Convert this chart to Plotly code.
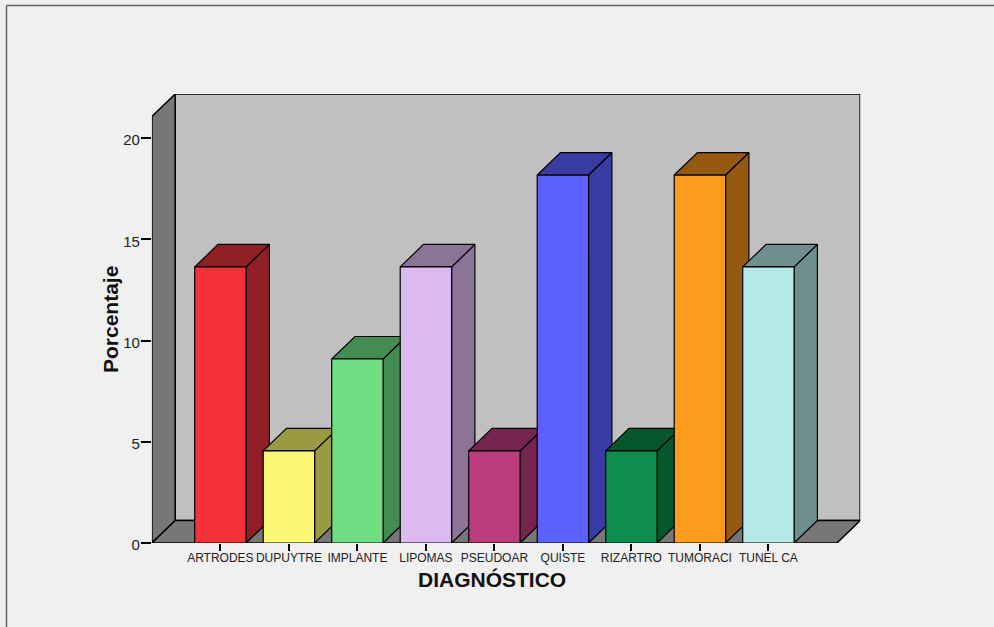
import plotly.graph_objects as go

categories = ["ARTRODES", "DUPUYTRE", "IMPLANTE", "LIPOMAS", "PSEUDOAR",
              "QUISTE", "RIZARTRO", "TUMORACI", "TUNEL CA"]
values = [13.64, 4.55, 9.09, 13.64, 4.55, 18.18, 4.55, 18.18, 13.64]
front_colors = ["#F33339", "#FBF877", "#70DE82", "#DDB9F1", "#BA3C7D",
                "#5D62FF", "#0D8E4C", "#FD9B1C", "#B6E8E8"]
side_colors = ["#8F1F24", "#9A9A42", "#458C52", "#8B7497", "#74244E",
               "#393CA3", "#07572E", "#955A0F", "#6F8F8F"]
y_ticks = [0, 5, 10, 15, 20]

W, H = 994, 627
PX_X = 68.5          # pixels per category
PX_Y = 20.24         # pixels per percent
X0, Y0 = 151.9, 543.0  # pixel of front-left floor corner
DX = 23.3 / PX_X     # oblique depth in axis units
DY = 22.5 / PX_Y
BAR_W = 0.75
Y_TOP = 21.07
X_MIN, X_MAX = -1.0, 9.0

fig = go.Figure()


def face(xs, ys, color, lw=1.2):
    fig.add_trace(go.Scatter(
        x=xs + xs[:1], y=ys + ys[:1], mode="lines", fill="toself", fillcolor=color,
        line=dict(color="#000000", width=lw), hoverinfo="skip", showlegend=False,
        cliponaxis=False))


# back wall, left wall, floor
face([X_MIN + DX, X_MAX + DX, X_MAX + DX, X_MIN + DX], [DY, DY, Y_TOP + DY, Y_TOP + DY], "#C0C0C0", 1.6)
face([X_MIN, X_MIN + DX, X_MIN + DX, X_MIN], [0, DY, Y_TOP + DY, Y_TOP], "#777777", 1.6)
face([X_MIN, X_MAX, X_MAX + DX, X_MIN + DX], [0, 0, DY, DY], "#777777", 1.6)

for i, v in enumerate(values):
    l, r = i - BAR_W / 2, i + BAR_W / 2
    face([r, r + DX, r + DX, r], [0, DY, v + DY, v], side_colors[i])
    face([l, r, r + DX, l + DX], [v, v, v + DY, v + DY], side_colors[i])
    face([l, r, r, l], [0, 0, v, v], front_colors[i])

fig.update_layout(
    width=W, height=H,
    margin=dict(l=0, r=0, t=0, b=0),
    paper_bgcolor="#F0F0F0", plot_bgcolor="rgba(0,0,0,0)",
    font=dict(family="Liberation Sans, Arial, sans-serif", color="#222222"),
    xaxis=dict(
        automargin=False,
        domain=[X0 / W, (X0 + (X_MAX - X_MIN + DX) * PX_X) / W],
        range=[X_MIN, X_MAX + DX], showgrid=False, zeroline=False, showline=False,
        tickmode="array", tickvals=list(range(len(categories))), ticktext=categories,
        ticks="outside", ticklen=7, tickwidth=1.5, tickcolor="#000000",
        tickfont=dict(size=12), tickangle=0, ticklabelstandoff=-3,
    ),
    yaxis=dict(
        automargin=False,
        domain=[(H - Y0) / H, (H - Y0 + (Y_TOP + DY) * PX_Y) / H],
        range=[0, Y_TOP + DY], showgrid=False, zeroline=False, showline=False,
        tickmode="array", tickvals=y_ticks,
        ticks="outside", ticklen=10, tickwidth=1.5, tickcolor="#000000",
        tickfont=dict(size=15), ticklabelshift=2, ticklabelstandoff=-2,
    ),
    annotations=[
        dict(text="<b>DIAGNÓSTICO</b>", xref="paper", yref="paper", x=492 / W, y=1 - 579.5 / H,
             showarrow=False, xanchor="center", yanchor="middle",
             font=dict(size=21, color="#111111")),
        dict(text="<b>Porcentaje</b>", xref="paper", yref="paper", x=110 / W, y=1 - 320 / H,
             showarrow=False, xanchor="center", yanchor="middle", textangle=-90,
             font=dict(size=21, color="#111111")),
    ],
    shapes=[
        dict(type="line", xref="paper", yref="paper", x0=6.5 / W, x1=6.5 / W, y0=0, y1=1 - 5.5 / H,
             line=dict(color="#666666", width=1.5)),
        dict(type="line", xref="paper", yref="paper", x0=6.5 / W, x1=1, y0=1 - 5.5 / H, y1=1 - 5.5 / H,
             line=dict(color="#666666", width=1.5)),
    ],
)

fig.write_html("out.html", config=dict(displayModeBar=False),
               post_script="document.body.style.margin='0';")
